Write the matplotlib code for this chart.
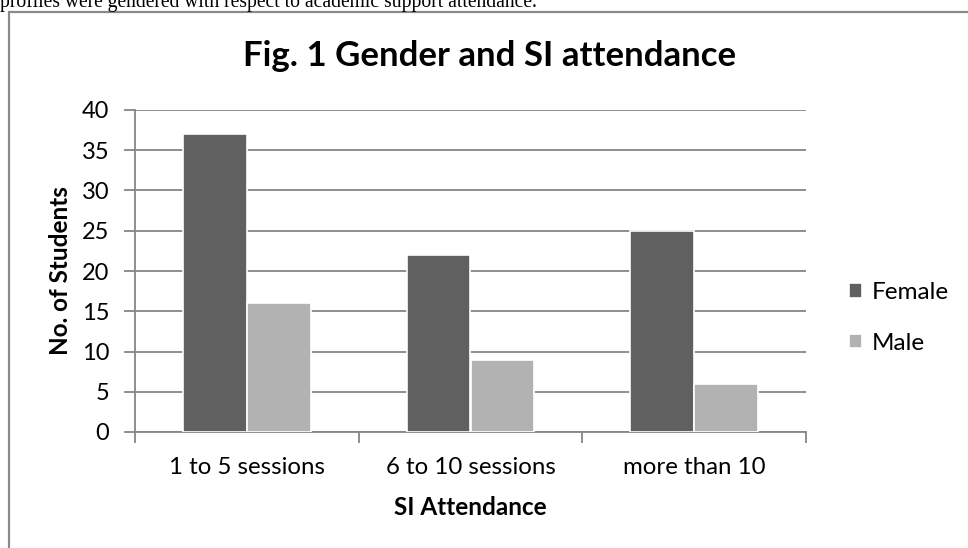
import matplotlib.pyplot as plt
import numpy as np
from matplotlib.patches import Rectangle

categories = ["1 to 5 sessions", "6 to 10 sessions", "more than 10"]
female = [37, 22, 25]
male = [16, 9, 6]
yticks = [0, 5, 10, 15, 20, 25, 30, 35, 40]

W, H = 968, 548
fig = plt.figure(figsize=(W / 100, H / 100), dpi=100)
plt.rcParams['font.family'] = ['Lato', 'DejaVu Sans']

# running text above the chart (clipped by the page edge)
fig.text(0 / W, 1 - 7 / H, "profiles were gendered with respect to academic support attendance.",
         family='Liberation Serif', fontsize=14.1, color='black', va='baseline', ha='left')

# chart frame
fig.add_artist(Rectangle((9 / W, -0.1), 1.2, 1 - 12 / H + 0.1, transform=fig.transFigure,
                         fill=False, edgecolor='#8a8a8a', linewidth=1.6))

ax = fig.add_axes([135 / W, 1 - 432 / H, (806 - 135) / W, (432 - 110) / H])
x = np.arange(len(categories))
bw = 0.286
ax.bar(x - bw / 2, female, bw, color='#606060', edgecolor='white', linewidth=1.2, label='Female', zorder=3)
ax.bar(x + bw / 2, male, bw, color='#b2b2b2', edgecolor='white', linewidth=1.2, label='Male', zorder=3)

ax.set_xlim(-0.5, len(categories) - 0.5)
ax.set_ylim(0, 40)
ax.set_yticks(yticks)
ax.set_yticklabels([str(v) for v in yticks], fontsize=17)
ax.yaxis.grid(True, color='#868686', linewidth=1.3, zorder=0)
ax.set_xticks(x)
ax.set_xticklabels(categories, fontsize=17.3)
ax.set_xticks(np.arange(-0.5, len(categories)), minor=True)
ax.tick_params(axis='x', which='major', length=0, pad=18)
ax.tick_params(axis='x', which='minor', length=8, width=1.3, color='#868686')
ax.tick_params(axis='y', length=8, width=1.3, color='#868686', pad=10.5)
for s in ['top', 'right']:
    ax.spines[s].set_visible(False)
for s in ['left', 'bottom']:
    ax.spines[s].set_color('#868686')
    ax.spines[s].set_linewidth(1.3)

ax.set_xlabel("SI Attendance", fontsize=17.5, fontweight='bold', labelpad=13)
ax.set_ylabel("No. of Students", fontsize=17.5, fontweight='bold', labelpad=7)

fig.text(490 / W, 1 - 56 / H, "Fig. 1 Gender and SI attendance", fontsize=25, fontweight='bold',
         ha='center', va='center')

leg = ax.legend(loc='center left', bbox_to_anchor=(849 / W, 1 - 318 / H), bbox_transform=fig.transFigure,
                frameon=False, fontsize=17.5, handlelength=0.55, handleheight=0.55, handletextpad=0.4,
                labelspacing=1.2, borderaxespad=0, borderpad=0)

fig.savefig("out.png", dpi=100)
